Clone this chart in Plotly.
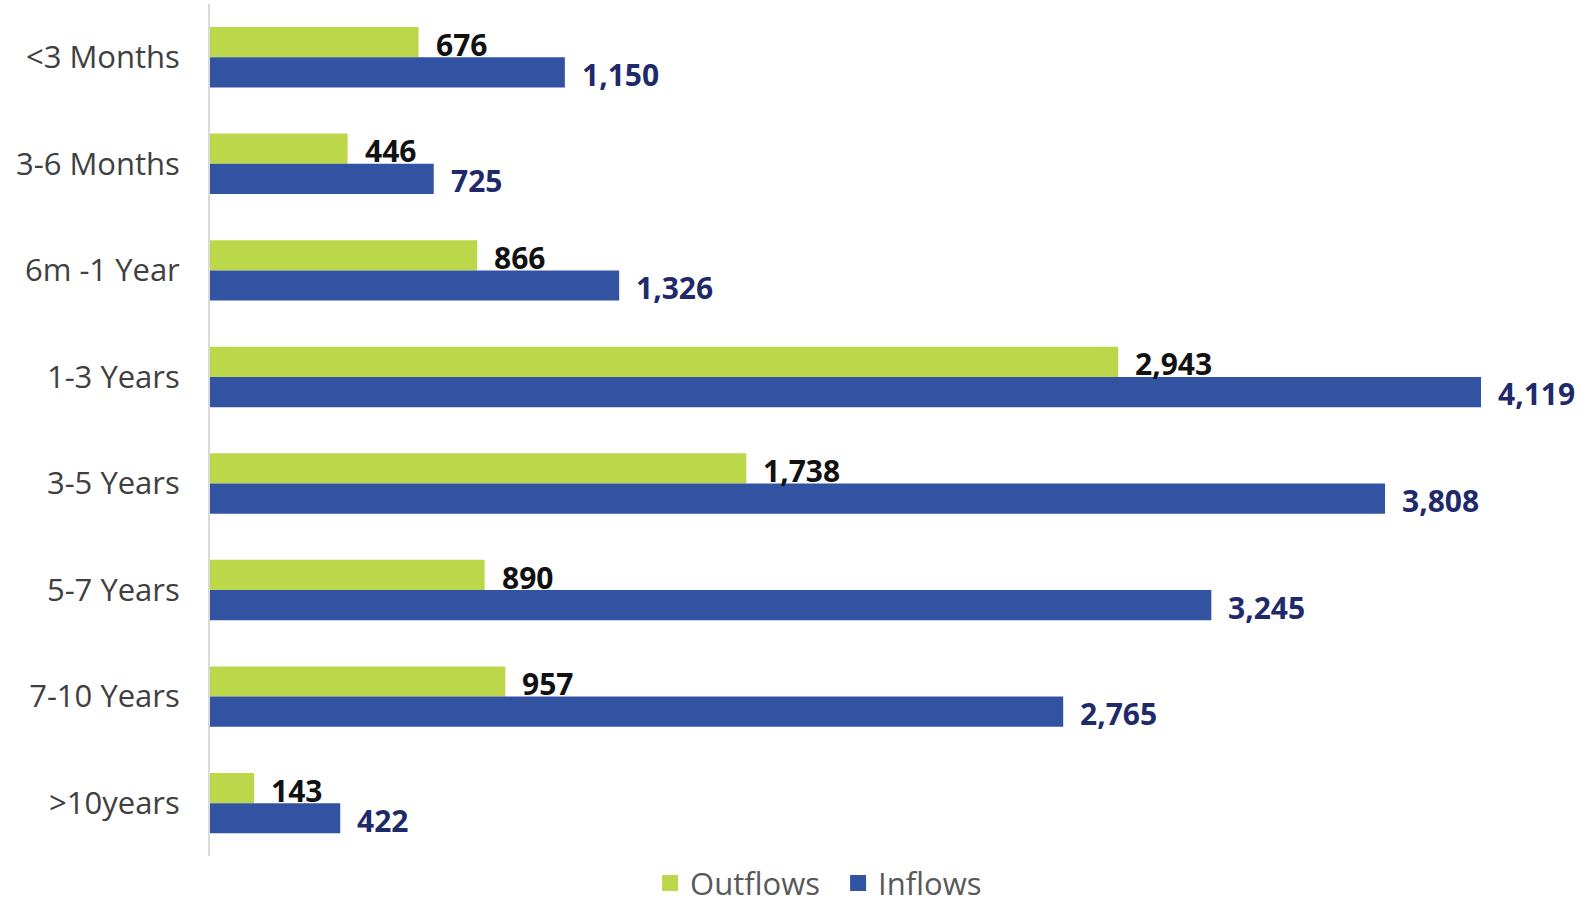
import plotly.graph_objects as go

# Maturity buckets, top to bottom
categories = ["<3 Months", "3-6 Months", "6m -1 Year", "1-3 Years",
              "3-5 Years", "5-7 Years", "7-10 Years", ">10years"]
outflows = [676, 446, 866, 2943, 1738, 890, 957, 143]
inflows = [1150, 725, 1326, 4119, 3808, 3245, 2765, 422]

GREEN = "#BDD74B"
BLUE = "#3253A2"
FONT = "Open Sans"

fig = go.Figure()
fig.add_trace(go.Bar(name="Outflows", y=categories, x=outflows, orientation="h",
                     marker=dict(color=GREEN, line=dict(width=0)), showlegend=False))
fig.add_trace(go.Bar(name="Inflows", y=categories, x=inflows, orientation="h",
                     marker=dict(color=BLUE, line=dict(width=0)), showlegend=False))

# Legend entries with larger square swatches
for name, color in [("Outflows", GREEN), ("Inflows", BLUE)]:
    fig.add_trace(go.Scatter(name=name, x=[None], y=[None], mode="markers",
                             marker=dict(symbol="square", size=16, color=color),
                             showlegend=True, hoverinfo="skip"))

# Value labels just past the end of each bar
annotations = []
for cat, v in zip(categories, outflows):
    annotations.append(dict(x=v, y=cat, xref="x", yref="y", text=f"{v:,}",
                            showarrow=False, xanchor="left", yanchor="middle",
                            xshift=15, yshift=13,
                            font=dict(family=FONT, size=30, color="#111111", weight="bold")))
for cat, v in zip(categories, inflows):
    annotations.append(dict(x=v, y=cat, xref="x", yref="y", text=f"{v:,}",
                            showarrow=False, xanchor="left", yanchor="middle",
                            xshift=15, yshift=-17,
                            font=dict(family=FONT, size=30, color="#1F2A6B", weight="bold")))

fig.update_layout(
    width=1581, height=907,
    margin=dict(l=210, r=0, t=4, b=48),
    paper_bgcolor="white", plot_bgcolor="white",
    barmode="group", bargap=0.433, bargroupgap=0,
    font=dict(family=FONT),
    annotations=annotations,
    showlegend=True,
    legend=dict(orientation="h", x=0.321, xanchor="left",
                yref="container", y=0.026, yanchor="middle",
                font=dict(family=FONT, size=31, color="#595959"),
                itemwidth=30, entrywidth=143, entrywidthmode="pixels",
                traceorder="normal"),
    xaxis=dict(range=[0, 4443], showgrid=False, zeroline=False, showticklabels=False,
               showline=False, fixedrange=True),
    yaxis=dict(autorange="reversed", showgrid=False, zeroline=False,
               showline=True, linecolor="#D9D9D9", linewidth=2,
               tickfont=dict(family=FONT, size=31, color="#404040"),
               ticks="", ticklabelstandoff=22),
)

fig.write_html("out.html")
